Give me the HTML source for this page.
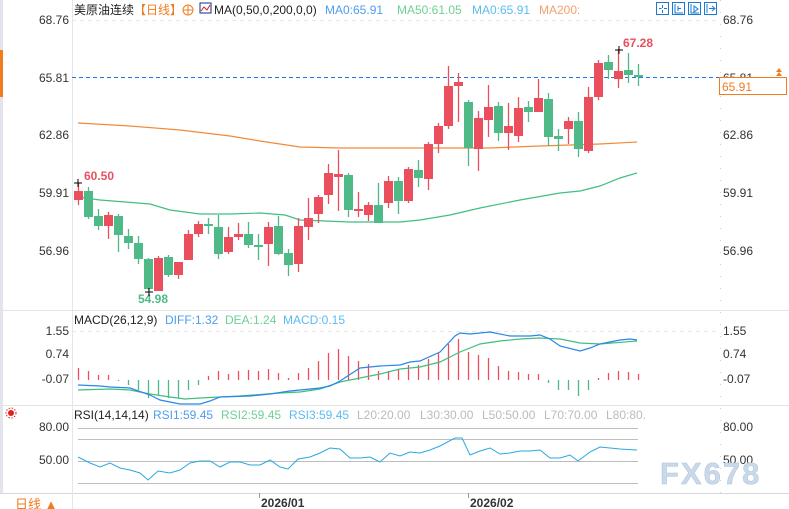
<!DOCTYPE html>
<html><head><meta charset="utf-8"><style>
html,body{margin:0;padding:0;background:#fff;width:789px;height:509px;overflow:hidden;font-family:"Liberation Sans","Noto Sans CJK SC",sans-serif;}
svg{display:block}
text{font-family:"Liberation Sans","Noto Sans CJK SC",sans-serif;}
</style></head><body>
<svg id="s" width="789" height="509" xmlns="http://www.w3.org/2000/svg">
<rect x="0" y="0" width="789" height="509" fill="#fff"/>
<rect x="0" y="0" width="3" height="493" fill="#e4e4ec"/>
<rect x="0" y="50" width="3" height="47" fill="#f07c20"/>
<!-- pane borders -->
<line x1="0" y1="310.5" x2="789" y2="310.5" stroke="#e3e3e3"/>
<line x1="0" y1="405.5" x2="789" y2="405.5" stroke="#e3e3e3"/>
<line x1="0" y1="493.5" x2="789" y2="493.5" stroke="#d8d8d8"/>
<line x1="72.5" y1="0" x2="72.5" y2="509" stroke="#e3e6ea"/>
<line x1="720.5" y1="0" x2="720.5" y2="493" stroke="#d0d0d0" stroke-dasharray="1,11"/>
<!-- header -->
<text x="74" y="14" font-size="12" fill="#222">美原油连续</text>
<text x="134" y="14" font-size="12" fill="#f07c20">【日线】</text>
<circle cx="188" cy="10" r="5" fill="none" stroke="#f07c20"/><line x1="183" y1="10" x2="193" y2="10" stroke="#f07c20"/><line x1="188" y1="5" x2="188" y2="15" stroke="#f07c20"/>
<rect x="200" y="3" width="11" height="10" fill="#fff" stroke="#1a2a8a"/><polyline points="201,11 204,7 207,10 210,5" fill="none" stroke="#d02020"/>
<text x="214" y="14" font-size="12" fill="#222">MA(0,50,0,200,0,0)</text>
<text x="325" y="14" font-size="12" fill="#4d9df0">MA0:65.91</text>
<text x="397" y="14" font-size="12" fill="#6fcf97">MA50:61.05</text>
<text x="472" y="14" font-size="12" fill="#5bbcf0">MA0:65.91</text>
<text x="539" y="14" font-size="12" fill="#f4a06a">MA200:</text>
<g fill="none" stroke="#1a7ad0" stroke-width="1">
<rect x="656.5" y="2.5" width="12" height="12"/><rect x="672.5" y="2.5" width="12" height="12"/><rect x="688.5" y="2.5" width="12" height="12"/><rect x="704.5" y="2.5" width="12" height="12"/>
<path d="M662.5 5v3M662.5 10v3M659 8.5h2.5M664 8.5h3"/>
<path d="M675 4v9h8M678 6v5M678 8.5h3"/>
<path d="M691 4v9h8M694 6l4 3-4 3z"/>
<path d="M707 4v9M709 8.5h5M712 6l3 2.5-3 2.5"/>
</g>
<!-- price grid -->
<line x1="72" y1="20.5" x2="720" y2="20.5" stroke="#e6e6e6" stroke-dasharray="4,4"/>
<g font-size="12" fill="#333" text-anchor="end">
<text x="69" y="24">68.76</text><text x="69" y="82">65.81</text><text x="69" y="139">62.86</text><text x="69" y="197">59.91</text><text x="69" y="255">56.96</text>
<text x="69" y="335">1.55</text><text x="69" y="358">0.74</text><text x="69" y="383">-0.07</text>
<text x="69" y="431">80.00</text><text x="69" y="464">50.00</text>
</g>
<g font-size="12" fill="#333">
<text x="723" y="24">68.76</text><text x="723" y="82">65.81</text><text x="723" y="139">62.86</text><text x="723" y="197">59.91</text><text x="723" y="255">56.96</text>
<text x="723" y="335">1.55</text><text x="723" y="358">0.74</text><text x="723" y="383">-0.07</text>
<text x="723" y="431">80.00</text><text x="723" y="464">50.00</text>
</g>
<line x1="72" y1="331.5" x2="720" y2="331.5" stroke="#e6e6e6" stroke-dasharray="4,4"/>
<line x1="72" y1="77.5" x2="720" y2="77.5" stroke="#1a7ae0" stroke-dasharray="4,3"/>
<rect x="719.5" y="77.5" width="67" height="17" fill="#fff" stroke="#f07c20"/>
<text x="722" y="91" font-size="12" fill="#f07c20">65.91</text>
<path d="M776 72l3-4 3 4zM776 76l3-4 3 4z" fill="#f07c20"/>
<!-- MA lines -->
<polyline fill="none" stroke="#f08a3a" stroke-width="1.2" points="78,123 130,126 180,130 230,136 260,141 300,147 340,148 490,148 540,146 600,144 637,142"/>
<polyline fill="none" stroke="#3fbf80" stroke-width="1.2" points="78,197 100,200 125,202 150,204 170,210 200,214 230,214 260,213 285,215 300,220 350,222 400,222 420,220 450,215 480,208 520,200 560,193 580,191 600,186 620,178 637,173"/>
<g id="candles"></g>
<!-- annotations -->
<text x="84" y="180" font-size="12" font-weight="bold" fill="#e8505f">60.50</text>
<path d="M74 183h8M78 179v8" stroke="#000"/>
<text x="138" y="303" font-size="12" font-weight="bold" fill="#4fba87">54.98</text>
<path d="M145 292h8M149 288v8" stroke="#000"/>
<text x="623" y="47" font-size="12" font-weight="bold" fill="#e8505f">67.28</text>
<path d="M615 50h8M619 46v8" stroke="#000"/>
<!-- MACD -->
<text x="74" y="324" font-size="12" fill="#222">MACD(26,12,9)</text>
<text x="165" y="324" font-size="12" fill="#4d9df0">DIFF:1.32</text>
<text x="225" y="324" font-size="12" fill="#6fcf97">DEA:1.24</text>
<text x="283" y="324" font-size="12" fill="#5bbcf0">MACD:0.15</text>
<g id="hist"></g>
<polyline fill="none" stroke="#3fbf80" stroke-width="1.2" points="78,390 110,389 130,390 150,394 170,397 185,399 200,398 240,396 280,393 300,392 320,389 340,382 360,378 380,374 400,369 420,367 440,362 460,352 480,344 500,341 520,339 540,338 560,339 580,343 600,344 637,341"/>
<polyline fill="none" stroke="#2a86e8" stroke-width="1.2" points="78,385 100,386 110,387 130,388 150,395 160,400 180,404 200,404 210,401 220,397 250,396 270,394 290,391 320,388 330,386 340,381 360,368 380,366 400,365 410,362 420,361 440,352 455,336 460,333 470,334 490,332 510,336 530,336 540,335 550,339 560,346 580,351 590,348 600,344 620,340 630,339 637,340"/>
<!-- RSI -->
<circle cx="11" cy="413" r="3" fill="#e02020"/><circle cx="11" cy="413" r="5" fill="none" stroke="#e02020" stroke-dasharray="1.5,1.5"/>
<text x="74" y="419" font-size="12" fill="#222">RSI(14,14,14)</text>
<text x="153" y="419" font-size="12" fill="#4d9df0">RSI1:59.45</text>
<text x="221" y="419" font-size="12" fill="#6fcf97">RSI2:59.45</text>
<text x="289" y="419" font-size="12" fill="#5bbcf0">RSI3:59.45</text>
<text x="357" y="419" font-size="12" fill="#bbb">L20:20.00</text>
<text x="420" y="419" font-size="12" fill="#bbb">L30:30.00</text>
<text x="482" y="419" font-size="12" fill="#bbb">L50:50.00</text>
<text x="544" y="419" font-size="12" fill="#bbb">L70:70.00</text>
<text x="606" y="419" font-size="12" fill="#bbb">L80:80.</text>
<g stroke="#bdbdbd" stroke-width="1"><line x1="78" y1="428.5" x2="638" y2="428.5"/><line x1="78" y1="439.5" x2="638" y2="439.5"/><line x1="78" y1="461.5" x2="638" y2="461.5"/><line x1="78" y1="483.5" x2="638" y2="483.5"/></g>
<polyline fill="none" stroke="#2aa8e0" stroke-width="1" points="78,457 90,463 100,467 110,463 120,468 130,470 140,473 148,480 158,471 170,473 180,470 190,463 200,461 210,461 220,467 230,462 240,462 250,465 260,465 270,460 280,467 288,469 298,459 310,457 320,453 330,448 340,449 350,458 360,458 370,457 380,462 390,453 400,456 410,452 420,453 430,450 440,446 455,438 462,438 470,455 480,451 490,448 500,454 510,453 520,451 530,451 540,450 550,458 560,458 570,455 578,461 590,452 600,447 610,448 620,449 637,450"/>
<text x="660" y="484" font-size="31" fill="#c9d9ea" font-weight="bold" letter-spacing="2" stroke="#b0c4d8" stroke-width="0.5">FX678</text>
<!-- bottom -->
<line x1="259.5" y1="493" x2="259.5" y2="498" stroke="#999"/>
<line x1="468.5" y1="493" x2="468.5" y2="498" stroke="#999"/>
<text x="261" y="507" font-size="12" font-weight="bold" fill="#333">2026/01</text>
<text x="470" y="507" font-size="12" font-weight="bold" fill="#333">2026/02</text>
<text x="15" y="509" font-size="13" fill="#f07c20">日线 ▲</text>
</svg>
<script>
var R="#eb4f5e",G="#4fba87";
var c=[
[R,191,200,183,205],[G,191,217,187,219],[G,216,226,209,230],[R,215,226,212,239],[G,216,235,214,252],[G,236,243,229,249],[G,243,259,236,264],[G,259,289,258,290],[R,258,291,256,291],[G,257,275,255,277],
[R,262,275,262,279],[R,234,260,230,260],[R,224,234,221,237],[G,224,226,218,234],[G,227,254,215,259],[R,237,252,227,254],[R,234,237,223,240],[G,234,245,222,248],[G,245,247,234,260],[R,227,244,222,266],
[G,226,254,216,255],[G,253,265,249,276],[R,226,264,218,272],[R,218,227,198,240],[R,197,214,195,223],[R,173,195,164,204],[R,174,177,150,211],[G,175,210,173,217],[R,209,210,192,217],[R,205,215,202,221],
[G,205,223,183,223],[R,181,203,176,208],[G,181,201,177,214],[R,169,201,167,203],[G,170,178,160,187],[R,144,179,142,190],[R,126,144,123,153],[R,86,126,66,129],[R,82,86,73,122],[G,102,148,100,166],
[R,118,149,111,171],[R,107,120,85,137],[G,106,133,102,141],[R,126,133,103,150],[R,108,136,97,142],[G,107,112,101,122],[R,98,112,79,112],[G,99,137,93,146],[G,136,139,129,151],[R,121,129,117,144],
[G,121,149,112,157],[R,97,151,87,153],[R,63,97,60,100],[G,62,70,55,79],[R,71,79,49,88],[G,70,75,53,83],[G,75,77,64,86]];
var h=[368,371,375,375,381,385,390,398,395,398,398,390,385,376,371,374,371,370,371,369,373,378,373,368,361,353,349,356,361,364,371,371,370,365,365,359,353,344,339,352,355,358,366,371,372,374,374,383,390,390,396,390,378,373,371,372,374];
var s="";
for(var i=0;i<c.length;i++){var x=78+10*i,d=c[i];
s+='<line x1="'+(x+0.5)+'" y1="'+d[3]+'" x2="'+(x+0.5)+'" y2="'+d[4]+'" stroke="'+d[0]+'" stroke-width="1.3"/>';
s+='<rect x="'+(x-4)+'" y="'+d[1]+'" width="9" height="'+Math.max(2,d[2]-d[1])+'" fill="'+d[0]+'"/>';}
document.getElementById("candles").innerHTML=s;
var t="";
for(var i=0;i<h.length;i++){var x=78+10*i+0.5,y=h[i],col=y<380?R:G;
t+='<line x1="'+x+'" y1="380" x2="'+x+'" y2="'+y+'" stroke="'+col+'" stroke-width="1.3"/>';}
document.getElementById("hist").innerHTML=t;
</script>
</body></html>
